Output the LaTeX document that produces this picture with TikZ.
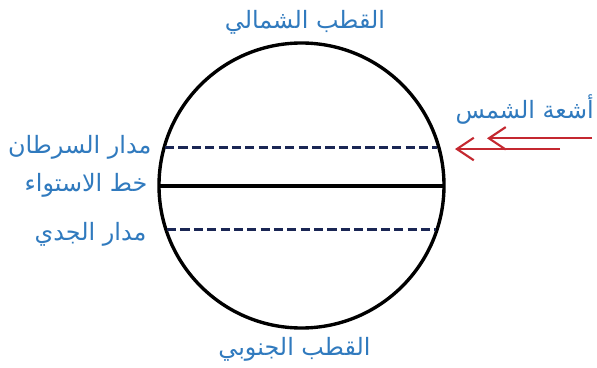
\documentclass[tikz,border=0pt]{standalone}
\usepackage{fontspec}
\newfontfamily\arabicfont[Script=Arabic]{DejaVu Sans}
\usetikzlibrary{arrows.meta}
\TeXXeTstate=1
\definecolor{labelblue}{RGB}{48,122,190}
\definecolor{tropicnavy}{RGB}{26,38,84}
\definecolor{sunred}{RGB}{196,40,48}
\tikzset{
  label/.style={text=labelblue, inner sep=0pt, font=\arabicfont\fontsize{17}{20}\selectfont},
  tropic/.style={tropicnavy, line width=2pt, dash pattern=on 6.5pt off 3pt},
  ray/.style={sunred, line width=1.5pt, -{Straight Barb[length=12pt,width=16pt]}}
}
\begin{document}
\begin{tikzpicture}[thick]
    \def\R{3.5625}
    \useasboundingbox (-7.5375,-4.5375) rectangle (7.3875,4.6375);
    % Earth (circle)
    \draw[line width=2.4pt] (0,0) circle (\R);
    % Equator and tropics
    \draw[line width=2.4pt] (-\R,-0.01) -- (\R,-0.01);
    \draw[tropic] (-3.41,0.955) -- (3.39,0.955);
    \draw[tropic] (-3.36,-1.09) -- (3.36,-1.09);
    % Labels
    \node[label, anchor=base] (north) at (0.0875,3.9125) {\beginR القطب الشمالي\endR};
    \node[label, anchor=base] (south) at (-0.175,-4.2375) {\beginR القطب الجنوبي\endR};
    \node[label, anchor=base east] (cancer) at (-3.7375,0.8125) {\beginR مدار السرطان\endR};
    \node[label, anchor=base east] (equator) at (-3.8375,-0.155) {\beginR خط الاستواء\endR};
    \node[label, anchor=base east] (capricorn) at (-3.8625,-1.3625) {\beginR مدار الجدي\endR};
    \node[label, anchor=base west] (sun) at (3.8375,1.68) {\beginR أشعة الشمس\endR};
    % Sun rays
    \coordinate (rayAstart) at (7.2625,1.18);
    \coordinate (rayAtip) at (4.6375,1.18);
    \coordinate (rayBstart) at (6.4625,0.9125);
    \coordinate (rayBtip) at (3.8375,0.9125);
    \draw[ray] (rayAstart) -- (rayAtip);
    \draw[ray] (rayBstart) -- (rayBtip);
\end{tikzpicture}
\end{document}
